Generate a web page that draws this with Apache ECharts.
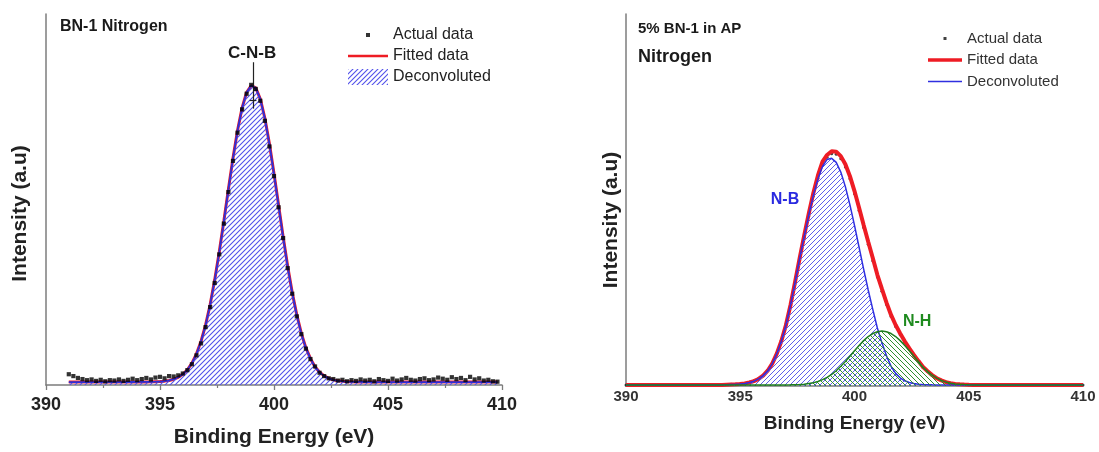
<!DOCTYPE html>
<html>
<head>
<meta charset="utf-8">
<title>N 1s XPS – BN-1 and 5% BN-1 in AP</title>
<script src="https://cdn.jsdelivr.net/npm/echarts@6/dist/echarts.min.js"></script>
<style>
  html, body { margin: 0; padding: 0; background: #ffffff; }
  #wrap { position: relative; width: 1099px; height: 452px; overflow: hidden; }
  #left { position: absolute; left: 0; top: 0; width: 560px; height: 452px; }
  #right { position: absolute; left: 560px; top: 0; width: 539px; height: 452px; }
</style>
</head>
<body>
<div id="wrap"><div id="left"></div><div id="right"></div></div>
<script>
// ---------- data ----------
// Binding-energy axis ticks (eV)
const energyTicks = [390, 395, 400, 405, 410];

// BN-1, N 1s: spectrum sampled every 0.2 eV from 391.0 eV
const bn1Start = 391.0;
const bn1Step = 0.2;
const bn1Actual = [
  2.9, 2.4, 1.9, 1.6, 1.3, 1.5, 1.1, 1.4, 1.0, 1.3,
  1.2, 1.5, 1.1, 1.4, 1.7, 1.3, 1.6, 1.9, 1.5, 2.0,
  2.2, 1.8, 2.4, 2.3, 2.6, 3.1, 4.0, 5.6, 8.0, 11.2,
  15.6, 21.0, 27.5, 35.2, 43.5, 52.0, 60.4, 68.0, 74.3, 78.5,
  80.9, 79.8, 76.6, 71.2, 64.3, 56.3, 47.9, 39.6, 31.5, 24.6,
  18.5, 13.7, 9.8, 7.0, 5.0, 3.3, 2.4, 1.8, 1.6, 1.2,
  1.4, 1.0, 1.3, 1.1, 1.5, 1.2, 1.4, 1.0, 1.6, 1.3,
  1.1, 1.7, 1.2, 1.5, 1.9, 1.4, 1.2, 1.6, 1.8, 1.3,
  1.5, 2.0, 1.7, 1.4, 2.1, 1.6, 1.9, 1.3, 2.2, 1.5,
  1.8, 1.2, 1.4, 1.0, 0.9
];
const bn1Fitted = [
  0.8, 0.8, 0.8, 0.8, 0.8, 0.8, 0.8, 0.8, 0.8, 0.8,
  0.8, 0.8, 0.8, 0.81, 0.81, 0.82, 0.83, 0.84, 0.86, 0.89,
  0.93, 1.04, 1.23, 1.56, 2.08, 2.9, 4.1, 5.9, 8.4, 11.8,
  16.2, 21.7, 28.4, 35.9, 44.2, 52.8, 61.1, 68.6, 74.7, 78.9,
  80.7, 80.1, 77.1, 71.9, 65.0, 57.0, 48.5, 40.0, 32.0, 24.9,
  18.9, 13.9, 10.0, 7.1, 4.9, 3.45, 2.45, 1.8, 1.38, 1.12,
  0.98, 0.9, 0.86, 0.83, 0.82, 0.81, 0.8, 0.8, 0.8, 0.8,
  0.8, 0.8, 0.8, 0.8, 0.8, 0.8, 0.8, 0.8, 0.8, 0.8,
  0.8, 0.8, 0.8, 0.8, 0.8, 0.8, 0.8, 0.8, 0.8, 0.8,
  0.8, 0.8, 0.8, 0.8, 0.8
];
// single component: the C-N-B peak carries the whole fit
const bn1PeakCNB = bn1Fitted;

// 5% BN-1 in AP, N 1s: sampled every 0.2 eV from 390.0 eV
const apStart = 390.0;
const apStep = 0.2;
const apActual = [
  0.3, 0.35, 0.3, 0.25, 0.3, 0.35, 0.3, 0.3, 0.25, 0.3,
  0.35, 0.3, 0.3, 0.35, 0.3, 0.25, 0.3, 0.3, 0.35, 0.3,
  0.3, 0.35, 0.4, 0.45, 0.5, 0.6, 0.75, 1.0, 1.4, 2.0,
  2.9, 4.2, 6.1, 8.8, 12.2, 16.5, 21.7, 27.6, 33.9, 39.9,
  45.7, 51.1, 55.8, 59.5, 61.5, 62.4, 62.3, 61.1, 58.9, 55.7,
  51.7, 47.2, 42.6, 38.1, 33.7, 29.3, 25.5, 21.9, 18.7, 16.0,
  13.8, 11.7, 9.9, 8.2, 6.6, 5.0, 3.9, 2.9, 2.1, 1.5,
  1.05, 0.75, 0.55, 0.45, 0.38, 0.33, 0.3, 0.3, 0.25, 0.35,
  0.3, 0.3, 0.25, 0.3, 0.35, 0.3, 0.3, 0.25, 0.3, 0.35,
  0.3, 0.3, 0.25, 0.3, 0.3, 0.35, 0.3, 0.3, 0.25, 0.3,
  0.3
];
const apFitted = [
  0.3, 0.3, 0.3, 0.3, 0.3, 0.3, 0.3, 0.3, 0.3, 0.3,
  0.3, 0.3, 0.3, 0.3, 0.3, 0.3, 0.3, 0.3, 0.3, 0.3,
  0.3, 0.3, 0.35, 0.4, 0.45, 0.55, 0.7, 0.95, 1.3, 1.9,
  2.8, 4.1, 6.0, 8.7, 12.1, 16.4, 21.8, 28.0, 34.4, 40.5,
  46.4, 51.9, 56.6, 60.3, 62.1, 63.1, 63.0, 61.8, 59.6, 56.4,
  52.4, 47.9, 43.3, 38.8, 34.4, 29.9, 26.1, 22.4, 19.1, 16.4,
  14.1, 12.0, 10.1, 8.35, 6.7, 5.1, 3.95, 2.92, 2.1, 1.5,
  1.05, 0.75, 0.55, 0.45, 0.38, 0.33, 0.3, 0.3, 0.3, 0.3,
  0.3, 0.3, 0.3, 0.3, 0.3, 0.3, 0.3, 0.3, 0.3, 0.3,
  0.3, 0.3, 0.3, 0.3, 0.3, 0.3, 0.3, 0.3, 0.3, 0.3,
  0.3
];
const apPeakNB = [
  0.3, 0.3, 0.3, 0.3, 0.3, 0.3, 0.3, 0.3, 0.3, 0.3,
  0.3, 0.3, 0.3, 0.3, 0.3, 0.3, 0.3, 0.3, 0.3, 0.3,
  0.3, 0.3, 0.35, 0.4, 0.45, 0.55, 0.7, 0.95, 1.3, 1.9,
  2.8, 4.1, 6.0, 8.7, 12.1, 16.4, 21.8, 27.9, 34.3, 40.3,
  46.0, 51.3, 55.7, 59.0, 60.9, 61.2, 60.1, 57.5, 53.6, 48.7,
  43.2, 37.3, 31.4, 25.8, 20.6, 15.6, 11.6, 8.1, 5.3, 3.4,
  2.2, 1.4, 0.95, 0.65, 0.5, 0.4, 0.35, 0.32, 0.3, 0.3,
  0.3, 0.3, 0.3, 0.3, 0.3, 0.3, 0.3, 0.3, 0.3, 0.3,
  0.3, 0.3, 0.3, 0.3, 0.3, 0.3, 0.3, 0.3, 0.3, 0.3,
  0.3, 0.3, 0.3, 0.3, 0.3, 0.3, 0.3, 0.3, 0.3, 0.3,
  0.3
];
const apPeakNH = [
  0.3, 0.3, 0.3, 0.3, 0.3, 0.3, 0.3, 0.3, 0.3, 0.3,
  0.3, 0.3, 0.3, 0.3, 0.3, 0.3, 0.3, 0.3, 0.3, 0.3,
  0.3, 0.3, 0.3, 0.3, 0.3, 0.3, 0.3, 0.3, 0.3, 0.3,
  0.3, 0.3, 0.3, 0.3, 0.3, 0.3, 0.32, 0.36, 0.42, 0.5,
  0.7, 0.9, 1.2, 1.7, 2.3, 3.1, 4.1, 5.3, 6.6, 8.0,
  9.5, 10.9, 12.2, 13.3, 14.1, 14.6, 14.8, 14.6, 14.1, 13.3,
  12.2, 10.9, 9.5, 8.0, 6.5, 5.0, 3.9, 2.9, 2.1, 1.5,
  1.05, 0.75, 0.55, 0.45, 0.38, 0.33, 0.3, 0.3, 0.3, 0.3,
  0.3, 0.3, 0.3, 0.3, 0.3, 0.3, 0.3, 0.3, 0.3, 0.3,
  0.3, 0.3, 0.3, 0.3, 0.3, 0.3, 0.3, 0.3, 0.3, 0.3,
  0.3
];

// ---------- helpers ----------
const FONT = '"Liberation Sans", Arial, Helvetica, sans-serif';
const AXIS_GREY = '#7c7c7c';

function withEnergy(start, step, values) {
  return values.map((v, i) => [Number((start + i * step).toFixed(2)), v]);
}

// diagonal hatch tile used as an area texture
function hatchTile(color, direction, size, width) {
  const c = document.createElement('canvas');
  c.width = size; c.height = size;
  const g = c.getContext('2d');
  g.strokeStyle = color;
  g.lineWidth = width;
  g.lineCap = 'square';
  g.beginPath();
  if (direction === '/') {
    g.moveTo(-1, size + 1); g.lineTo(size + 1, -1);
    g.moveTo(-1, 1); g.lineTo(1, -1);
    g.moveTo(size - 1, size + 1); g.lineTo(size + 1, size - 1);
  } else {
    g.moveTo(-1, -1); g.lineTo(size + 1, size + 1);
    g.moveTo(size - 1, -1); g.lineTo(size + 1, 1);
    g.moveTo(-1, size - 1); g.lineTo(1, size + 1);
  }
  g.stroke();
  return { image: c, repeat: 'repeat' };
}

const hatchCNB = hatchTile('#5252ea', '/', 5, 1.1);
const hatchNB = hatchTile('#5555ea', '/', 5, 0.95);
const hatchNH = hatchTile('#2f8f2f', '\\', 5, 1.0);

function energyAxis(extra) {
  return Object.assign({
    type: 'value',
    min: energyTicks[0],
    max: energyTicks[energyTicks.length - 1],
    interval: energyTicks[1] - energyTicks[0],
    axisLine: { show: true, onZero: false, lineStyle: { color: AXIS_GREY, width: 1.5 } },
    splitLine: { show: false },
    minorSplitLine: { show: false },
    name: 'Binding Energy (eV)',
    nameLocation: 'middle',
    nameMoveOverlap: false
  }, extra);
}

function intensityAxis(extra) {
  return Object.assign({
    type: 'value',
    min: 0,
    max: 100,
    axisLine: { show: true, onZero: false, lineStyle: { color: AXIS_GREY, width: 1.5 } },
    axisTick: { show: false },
    axisLabel: { show: false },
    splitLine: { show: false },
    name: 'Intensity (a.u)',
    nameLocation: 'middle',
    nameMoveOverlap: false
  }, extra);
}

// ---------- BN-1 Nitrogen ----------
const leftOption = {
  animation: false,
  backgroundColor: '#ffffff',
  textStyle: { fontFamily: FONT },
  title: {
    text: 'BN-1 Nitrogen', left: 60, top: 19, padding: 0,
    textStyle: { fontFamily: FONT, fontSize: 16, fontWeight: 'bold', color: '#1a1a1a' }
  },
  legend: {
    orient: 'vertical', left: 348, top: 27, padding: 0,
    itemWidth: 40, itemHeight: 16, itemGap: 5, selectedMode: false,
    itemStyle: { borderWidth: 0 },
    textStyle: { fontFamily: FONT, fontSize: 16, color: '#222' },
    data: [
      { name: 'Actual data', icon: 'path://M0,0M40,16M18,6h4v4h-4z' },
      { name: 'Fitted data', icon: 'path://M0,0M40,16M0,6.75h40v2.5h-40z' },
      { name: 'Deconvoluted', icon: 'rect', itemStyle: { color: hatchCNB, borderWidth: 0 } }
    ]
  },
  grid: { left: 46, top: 14, width: 456, height: 371, outerBoundsMode: 'none' },
  xAxis: energyAxis({
    axisTick: { show: true, inside: false, length: 5, lineStyle: { color: AXIS_GREY, width: 1.3 } },
    minorTick: { show: true, splitNumber: 2, length: 3, lineStyle: { color: AXIS_GREY, width: 1.2 } },
    axisLabel: { margin: 11, fontFamily: FONT, fontSize: 18, fontWeight: 'bold', color: '#222', showMinLabel: true, showMaxLabel: true },
    nameGap: 42,
    nameTextStyle: { fontFamily: FONT, fontSize: 21, fontWeight: 'bold', color: '#222' }
  }),
  yAxis: intensityAxis({
    nameGap: 15,
    nameTextStyle: { fontFamily: FONT, fontSize: 21, fontWeight: 'bold', color: '#222', padding: [0, 28, 0, 0] }
  }),
  series: [
    {
      name: 'Fitted data', type: 'line', symbol: 'none', silent: true, z: 2,
      data: withEnergy(bn1Start, bn1Step, bn1Fitted),
      lineStyle: { color: '#ee1c24', width: 3 }, itemStyle: { color: '#ee1c24' }
    },
    {
      name: 'Deconvoluted', type: 'line', symbol: 'none', silent: true, z: 3,
      data: withEnergy(bn1Start, bn1Step, bn1PeakCNB),
      lineStyle: { color: '#2f2fd6', width: 1.8 }, itemStyle: { color: '#2f2fd6' },
      areaStyle: { color: hatchCNB, opacity: 1 }
    },
    {
      name: 'Actual data', type: 'scatter', symbol: 'rect', symbolSize: 4.2, silent: true, z: 5,
      data: withEnergy(bn1Start, bn1Step, bn1Actual),
      itemStyle: { color: '#000000' },
      markLine: {
        silent: true, symbol: 'none', label: { show: false },
        lineStyle: { color: '#222', width: 1.2, type: 'solid' },
        data: [
          [{ coord: [399.08, 87.0] }, { coord: [399.08, 74.5] }],
          [{ coord: [398.93, 76.8] }, { coord: [399.23, 76.8] }]
        ]
      },
      markPoint: {
        silent: true, symbol: 'rect', symbolSize: 1,
        itemStyle: { color: 'rgba(0,0,0,0)' },
        label: { show: true, position: 'inside', formatter: 'C-N-B', fontFamily: FONT, fontSize: 17, fontWeight: 'bold', color: '#1a1a1a' },
        data: [{ coord: [399.04, 89.5] }]
      }
    }
  ]
};

// ---------- 5% BN-1 in AP, Nitrogen ----------
const rightOption = {
  animation: false,
  backgroundColor: '#ffffff',
  textStyle: { fontFamily: FONT },
  title: [
    { text: '5% BN-1 in AP', left: 78, top: 21, padding: 0,
      textStyle: { fontFamily: FONT, fontSize: 15, fontWeight: 'bold', color: '#1a1a1a' } },
    { text: 'Nitrogen', left: 78, top: 48, padding: 0,
      textStyle: { fontFamily: FONT, fontSize: 18, fontWeight: 'bold', color: '#1a1a1a' } }
  ],
  legend: {
    orient: 'vertical', left: 368, top: 31, padding: 0,
    itemWidth: 34, itemHeight: 12, itemGap: 6.5, selectedMode: false,
    itemStyle: { borderWidth: 0 },
    textStyle: { fontFamily: FONT, fontSize: 15, color: '#333' },
    data: [
      { name: 'Actual data', icon: 'path://M0,0M34,12M15.5,4.5h3v3h-3z' },
      { name: 'Fitted data', icon: 'path://M0,0M34,12M0,4.25h34v3.5h-34z' },
      { name: 'Deconvoluted', icon: 'path://M0,0M34,12M0,5.25h34v1.5h-34z' }
    ]
  },
  grid: { left: 66, top: 14, width: 457, height: 372, outerBoundsMode: 'none' },
  xAxis: energyAxis({
    axisTick: { show: false },
    minorTick: { show: false },
    axisLabel: { margin: 3, fontFamily: FONT, fontSize: 15, fontWeight: 'bold', color: '#333', showMinLabel: true, showMaxLabel: true },
    nameGap: 28,
    nameTextStyle: { fontFamily: FONT, fontSize: 19, fontWeight: 'bold', color: '#222' }
  }),
  yAxis: intensityAxis({
    nameGap: 4,
    nameTextStyle: { fontFamily: FONT, fontSize: 21, fontWeight: 'bold', color: '#222', padding: [0, 40, 0, 0] }
  }),
  series: [
    {
      name: 'Actual data', type: 'scatter', symbol: 'circle', symbolSize: 3, silent: true, z: 1,
      data: withEnergy(apStart, apStep, apActual),
      itemStyle: { color: '#111111' }
    },
    {
      name: 'Fitted data', type: 'line', symbol: 'none', silent: true, z: 2,
      data: withEnergy(apStart, apStep, apFitted),
      lineStyle: { color: '#ee1c24', width: 4 }, itemStyle: { color: '#ee1c24' }
    },
    {
      name: 'Deconvoluted', type: 'line', symbol: 'none', silent: true, z: 4,
      data: withEnergy(apStart, apStep, apPeakNB),
      lineStyle: { color: '#2f2fe0', width: 1.5 }, itemStyle: { color: '#2f2fe0' },
      areaStyle: { color: hatchNB, opacity: 1 },
      markPoint: {
        silent: true, symbol: 'rect', symbolSize: 1,
        itemStyle: { color: 'rgba(0,0,0,0)' },
        label: { show: true, position: 'inside', formatter: 'N-B', fontFamily: FONT, fontSize: 16, fontWeight: 'bold', color: '#2a2ae0' },
        data: [{ coord: [396.96, 50.0] }]
      }
    },
    {
      name: 'N-H', type: 'line', symbol: 'none', silent: true, z: 5,
      data: withEnergy(apStart, apStep, apPeakNH),
      lineStyle: { color: '#1f7f1f', width: 1.5 }, itemStyle: { color: '#1f7f1f' },
      areaStyle: { color: hatchNH, opacity: 1 },
      markPoint: {
        silent: true, symbol: 'rect', symbolSize: 1,
        itemStyle: { color: 'rgba(0,0,0,0)' },
        label: { show: true, position: 'inside', formatter: 'N-H', fontFamily: FONT, fontSize: 16, fontWeight: 'bold', color: '#1f8a1f' },
        data: [{ coord: [402.74, 17.2] }]
      }
    }
  ]
};

const leftChart = echarts.init(document.getElementById('left'), null, { renderer: 'canvas' });
leftChart.setOption(leftOption);
const rightChart = echarts.init(document.getElementById('right'), null, { renderer: 'canvas' });
rightChart.setOption(rightOption);
</script>
</body>
</html>
